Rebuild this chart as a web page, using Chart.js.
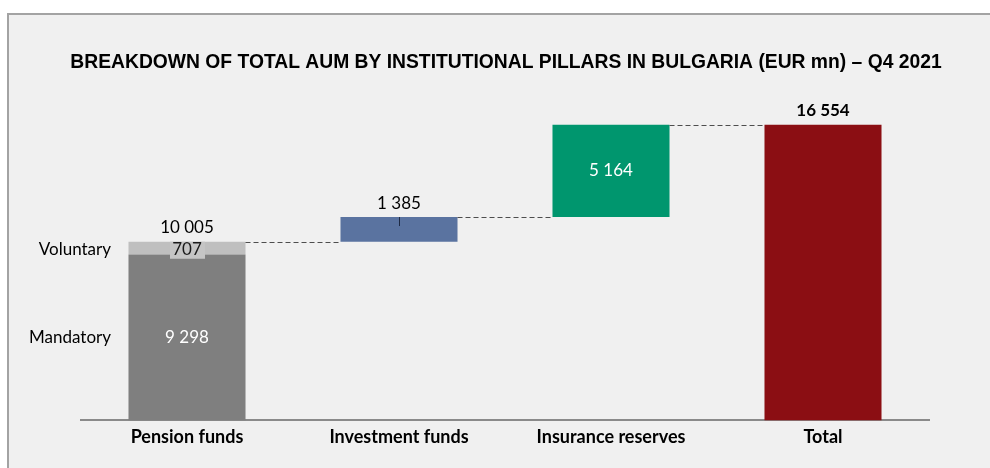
<!DOCTYPE html>
<html>
<head>
<meta charset="utf-8">
<script src="https://cdn.jsdelivr.net/npm/chart.js@4.4.1/dist/chart.umd.min.js"></script>
<style>
    html, body { margin: 0; padding: 0; background: #ffffff; }
    body { width: 990px; height: 468px; position: relative; overflow: hidden; }
    #frame {
        position: absolute; left: 7px; top: 13px; width: 1000px; height: 480px;
        border-top: 2px solid #a3a3a3; border-left: 2px solid #a3a3a3;
        background: #f0f0f0;
    }
    #aumChart { position: absolute; left: 0; top: 0; }
</style>
</head>
<body>
<div id="frame"></div>
<canvas id="aumChart" width="990" height="468"></canvas>
<script>
// AUM by pillar, EUR mn
const categories = ['Pension funds', 'Investment funds', 'Insurance reserves', 'Total'];
const pensionParts = ['Mandatory', 'Voluntary'];
const pensionValues = [9298, 707];
const stepValues = [1385, 5164];

const titleText = 'BREAKDOWN OF TOTAL AUM BY INSTITUTIONAL PILLARS IN BULGARIA (EUR mn) \u2013 Q4 2021';
const labelFont = 'Lato, "Open Sans", sans-serif';

const pensionTotal = pensionValues[0] + pensionValues[1];
const grandTotal = pensionTotal + stepValues[0] + stepValues[1];

// floating ranges for the two middle bars
const stepRanges = [null];
let running = pensionTotal;
stepValues.forEach((v) => {
    stepRanges.push([running, running + v]);
    running += v;
});
stepRanges.push(null);

const fmt = (v) => v.toLocaleString('en-US').replace(/,/g, ' ');

// Title is wider than the plot area, so it is drawn here instead of the title plugin
const wideTitle = {
    id: 'wideTitle',
    afterDraw(chart) {
        const ctx = chart.ctx;
        ctx.save();
        ctx.font = 'bold 19.3px "Liberation Sans", Arial, sans-serif';
        ctx.fillStyle = '#000000';
        ctx.textAlign = 'center';
        ctx.textBaseline = 'alphabetic';
        ctx.fillText(titleText, 506, 68);
        ctx.restore();
    },
};

// Connectors, value labels and pillar names
const waterfallDecor = {
    id: 'waterfallDecor',
    afterDatasetsDraw(chart) {
        const ctx = chart.ctx;
        const mand = chart.getDatasetMeta(0).data[0];
        const vol = chart.getDatasetMeta(1).data[0];
        const inv = chart.getDatasetMeta(2).data[1];
        const ins = chart.getDatasetMeta(2).data[2];
        const tot = chart.getDatasetMeta(3).data[3];

        ctx.save();
        // dashed connectors
        ctx.strokeStyle = '#4d4d4d';
        ctx.lineWidth = 1.2;
        ctx.setLineDash([5, 3]);
        const links = [[vol, inv, vol.y], [inv, ins, inv.y], [ins, tot, ins.y]];
        links.forEach(([a, b, y]) => {
            ctx.beginPath();
            ctx.moveTo(a.x + a.width / 2, Math.round(y) + 0.5);
            ctx.lineTo(b.x - b.width / 2, Math.round(y) + 0.5);
            ctx.stroke();
        });
        ctx.setLineDash([]);
        ctx.lineWidth = 1;

        ctx.textAlign = 'center';
        ctx.textBaseline = 'middle';

        // pension total above the stack
        ctx.font = '17px ' + labelFont;
        ctx.fillStyle = '#000000';
        ctx.fillText(fmt(pensionTotal), vol.x, vol.y - 14);

        // voluntary label on its own box
        const volMid = (vol.y + vol.base) / 2;
        ctx.fillStyle = '#c5c5c5';
        ctx.fillRect(vol.x - 17, vol.y, 35, 17);
        ctx.fillStyle = '#1a1a1a';
        ctx.fillText(fmt(pensionValues[1]), vol.x, volMid + 1);

        // mandatory inside
        ctx.fillStyle = '#ffffff';
        ctx.fillText(fmt(pensionValues[0]), mand.x, (mand.y + mand.base) / 2);

        // investment funds above, with leader
        ctx.fillStyle = '#000000';
        ctx.fillText(fmt(stepValues[0]), inv.x, inv.y - 14);
        ctx.strokeStyle = '#1e2a44';
        ctx.beginPath();
        ctx.moveTo(Math.round(inv.x) + 0.5, inv.y);
        ctx.lineTo(Math.round(inv.x) + 0.5, inv.y + 9);
        ctx.stroke();

        // insurance reserves inside
        ctx.fillStyle = '#ffffff';
        ctx.fillText(fmt(stepValues[1]), ins.x, (ins.y + ins.base) / 2);

        // total above, bold
        ctx.font = 'bold 17px ' + labelFont;
        ctx.fillStyle = '#000000';
        ctx.fillText(fmt(grandTotal), tot.x, tot.y - 14);

        // pillar names on the left
        ctx.font = '17px ' + labelFont;
        ctx.textAlign = 'right';
        ctx.fillText(pensionParts[1], 111, volMid + 1);
        ctx.fillText(pensionParts[0], 111, (mand.y + mand.base) / 2);
        ctx.restore();
    },
};

const ctx = document.getElementById('aumChart');
new Chart(ctx.getContext('2d'), {
    type: 'bar',
    data: {
        labels: categories,
        datasets: [
            {
                label: pensionParts[0],
                data: [[0, pensionValues[0]], null, null, null],
                backgroundColor: '#7f7f7f',
            },
            {
                label: pensionParts[1],
                data: [[pensionValues[0], pensionTotal], null, null, null],
                backgroundColor: '#bfbfbf',
            },
            {
                label: 'Change',
                data: stepRanges,
                backgroundColor: ['#000000', '#5a73a0', '#00966e', '#000000'],
            },
            {
                label: 'Total',
                data: [null, null, null, [0, grandTotal]],
                backgroundColor: '#8b0e13',
            },
        ],
    },
    options: {
        responsive: false,
        animation: false,
        events: [],
        datasets: {
            bar: { categoryPercentage: 1, barPercentage: 0.552, borderWidth: 0, grouped: false },
        },
        layout: { padding: { left: 81, right: 61, top: 99, bottom: 14 } },
        plugins: {
            legend: { display: false },
            tooltip: { enabled: false },
            title: { display: false },
        },
        scales: {
            x: {
                stacked: true,
                grid: { display: false, drawTicks: false },
                border: { display: true, color: '#8a8a8a', width: 2 },
                ticks: {
                    color: '#000000',
                    padding: 6,
                    font: { family: labelFont, size: 18, weight: 'bold' },
                },
            },
            y: {
                display: false,
                stacked: false,
                min: 0,
                max: 18000,
            },
        },
    },
    plugins: [waterfallDecor, wideTitle],
});
</script>
</body>
</html>
